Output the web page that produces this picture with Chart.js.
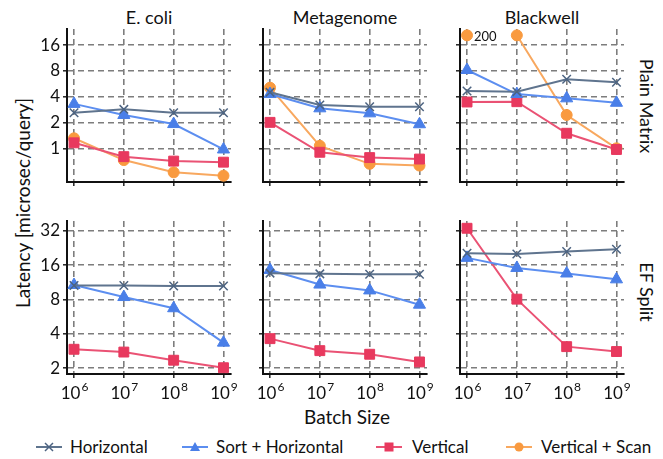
<!DOCTYPE html>
<html>
<head>
<meta charset="utf-8">
<script src="https://cdn.jsdelivr.net/npm/chart.js@4.4.0/dist/chart.umd.min.js"></script>
<style>
body{margin:0;background:#fff;width:663px;height:459px;position:relative;overflow:hidden;font-family:Lato,sans-serif;color:#111}
canvas{position:absolute}
.t{position:absolute;font-size:18px;white-space:nowrap;transform:translate(-50%,-50%)}
.legend{position:absolute;left:0;top:436px;width:663px;height:22px;font-size:17px}
.legend span{position:absolute;top:0;white-space:nowrap}
.legend svg{position:absolute;top:4px}
</style>
</head>
<body>

<div class="t" style="left:149px;top:17px">E. coli</div>
<div class="t" style="left:345px;top:17px">Metagenome</div>
<div class="t" style="left:542px;top:17px">Blackwell</div>
<div class="t" style="left:647px;top:106px;transform:translate(-50%,-50%) rotate(90deg)">Plain Matrix</div>
<div class="t" style="left:647px;top:292px;transform:translate(-50%,-50%) rotate(90deg)">EF Split</div>
<div class="t" style="left:22px;top:203px;font-size:19px;transform:translate(-50%,-50%) rotate(-90deg)">Latency [microsec/query]</div>
<div class="t" style="left:347px;top:416px;font-size:19px">Batch Size</div>

<div class="legend" id="legend"></div>

<script>
// x values (batch sizes) and tick labels
const batchSizes = [1e6, 1e7, 1e8, 1e9];
const plainTicks = [1, 2, 4, 8, 16];
const splitTicks = [2, 4, 8, 16, 32];
const seriesNames = ['Horizontal', 'Sort + Horizontal', 'Vertical', 'Vertical + Scan'];

// Plain Matrix row
const ecoliPlainHoriz = [2.6, 2.85, 2.6, 2.6];
const ecoliPlainSort = [3.3, 2.45, 1.92, 0.97];
const ecoliPlainVert = [1.16, 0.8, 0.71, 0.69];
const ecoliPlainScan = [1.31, 0.73, 0.525, 0.48];

const metaPlainHoriz = [4.5, 3.2, 3.06, 3.06];
const metaPlainSort = [4.3, 2.93, 2.56, 1.91];
const metaPlainVert = [2.01, 0.9, 0.78, 0.75];
const metaPlainScan = [5.1, 1.07, 0.66, 0.63];

const blackPlainHoriz = [4.66, 4.57, 6.4, 5.9];
const blackPlainSort = [8.2, 4.3, 3.83, 3.4];
const blackPlainVert = [3.47, 3.5, 1.5, 0.97];
const blackPlainScan = [200, 200, 2.45, 1.0];

// EF Split row
const ecoliSplitHoriz = [10.6, 10.6, 10.5, 10.5];
const ecoliSplitSort = [10.7, 8.4, 6.7, 3.35];
const ecoliSplitVert = [2.93, 2.77, 2.35, 2.02];

const metaSplitHoriz = [13.6, 13.4, 13.3, 13.3];
const metaSplitSort = [14.5, 10.8, 9.6, 7.2];
const metaSplitVert = [3.63, 2.85, 2.65, 2.27];

const blackSplitHoriz = [20.3, 20.0, 21.0, 22.0];
const blackSplitSort = [18.5, 15.1, 13.5, 12.0];
const blackSplitVert = [33.6, 8.05, 3.09, 2.8];

// values above this are drawn at the top edge with a "200" note
const plainCap = 20.8;

const styles = [
  {line: '#5f748e', point: '#4c6381', shape: 'crossRot', r: 6, bw: 1.5},
  {line: '#5c8ef0', point: '#4a7fe8', shape: 'triangle', r: 7, bw: 1},
  {line: '#ea5274', point: '#e8395e', shape: 'rect', r: 7, bw: 1},
  {line: '#f8a85f', point: '#f99a3f', shape: 'circle', r: 5.5, bw: 1}
];

const axisX = [67, 263, 460];
const rowTop = [29, 221];
const plotW = 164, plotH = 153;
const xMin = Math.pow(10, 5.859), xMax = Math.pow(10, 9.151);
const yRange = [[0.405, 24.66], [1.78, 38.9]];

const supTicks = {
  id: 'supTicks',
  afterDraw(chart) {
    const sc = chart.scales.x, ctx = chart.ctx;
    ctx.save();
    ctx.fillStyle = '#111';
    ctx.textBaseline = 'alphabetic';
    batchSizes.forEach(v => {
      const x = sc.getPixelForValue(v);
      const exp = String(Math.round(Math.log10(v)));
      ctx.font = '17px Lato';
      const w1 = ctx.measureText('10').width;
      ctx.font = '12px Lato';
      const w2 = ctx.measureText(exp).width;
      const x0 = x - (w1 + w2) / 2;
      ctx.font = '17px Lato';
      ctx.fillText('10', x0, sc.top + 25);
      ctx.font = '12px Lato';
      ctx.fillText(exp, x0 + w1 + 1, sc.top + 17);
    });
    ctx.restore();
  }
};

const capNote = {
  id: 'capNote',
  afterDatasetsDraw(chart) {
    const meta = chart.getDatasetMeta(3);
    if (!meta || !meta.data.length) return;
    const p = meta.data[0], ctx = chart.ctx;
    ctx.save();
    ctx.fillStyle = '#111';
    ctx.font = '13px Lato';
    ctx.textBaseline = 'middle';
    ctx.fillText('200', p.x + 7, p.y + 1);
    ctx.restore();
  }
};

function makePanel(col, row, series) {
  const left = col === 0 ? 50 : 14;
  const bottom = row === 1 ? 40 : 14;
  const cv = document.createElement('canvas');
  cv.width = left + plotW + 14;
  cv.height = 14 + plotH + bottom;
  cv.style.left = (axisX[col] - left) + 'px';
  cv.style.top = (rowTop[row] - 14) + 'px';
  document.body.appendChild(cv);

  const yTicks = row === 0 ? plainTicks : splitTicks;
  const cap = row === 0 ? plainCap : Infinity;
  const datasets = series.map((vals, i) => {
    const s = styles[i];
    return {
      label: seriesNames[i],
      data: vals.map((v, j) => ({x: batchSizes[j], y: Math.min(v, cap)})),
      borderColor: s.line,
      borderWidth: 2,
      pointStyle: s.shape,
      pointRadius: s.r,
      pointBackgroundColor: s.point,
      pointBorderColor: s.point,
      pointBorderWidth: s.bw,
      tension: 0,
      clip: false,
      segment: {
        borderColor: c => (vals[c.p0DataIndex] > cap && vals[c.p1DataIndex] > cap) ? 'rgba(0,0,0,0)' : undefined
      }
    };
  });

  const gridOpts = {color: '#7d7d7d', lineWidth: 1.6, tickLength: 4, tickColor: '#222', tickWidth: 1.5, tickBorderDash: []};
  const borderOpts = {color: '#111', width: 2, dash: [6, 4]};

  new Chart(cv, {
    type: 'line',
    data: {datasets},
    options: {
      responsive: false,
      animation: false,
      layout: {padding: {left: 0, top: 14, right: 14, bottom: 0}},
      plugins: {legend: {display: false}, tooltip: {enabled: false}},
      scales: {
        x: {
          type: 'logarithmic', min: xMin, max: xMax,
          afterBuildTicks: s => { s.ticks = batchSizes.map(v => ({value: v})); },
          afterFit: s => { s.height = bottom; s.paddingLeft = s.paddingRight = 0; },
          ticks: {display: false},
          grid: gridOpts, border: borderOpts
        },
        y: {
          type: 'logarithmic', min: yRange[row][0], max: yRange[row][1],
          afterBuildTicks: s => { s.ticks = yTicks.map(v => ({value: v})); },
          afterFit: s => { s.width = left; s.paddingTop = s.paddingBottom = 0; },
          ticks: {display: col === 0, callback: v => String(v), color: '#111', padding: 3, font: {family: 'Lato', size: 17}},
          grid: gridOpts, border: borderOpts
        }
      }
    },
    plugins: (row === 1 ? [supTicks] : []).concat(row === 0 && col === 2 ? [capNote] : [])
  });
}

makePanel(0, 0, [ecoliPlainHoriz, ecoliPlainSort, ecoliPlainVert, ecoliPlainScan]);
makePanel(1, 0, [metaPlainHoriz, metaPlainSort, metaPlainVert, metaPlainScan]);
makePanel(2, 0, [blackPlainHoriz, blackPlainSort, blackPlainVert, blackPlainScan]);
makePanel(0, 1, [ecoliSplitHoriz, ecoliSplitSort, ecoliSplitVert]);
makePanel(1, 1, [metaSplitHoriz, metaSplitSort, metaSplitVert]);
makePanel(2, 1, [blackSplitHoriz, blackSplitSort, blackSplitVert]);

// legend: line icon with marker, then name
const legendX = [[36, 70], [182, 216], [376, 412], [506, 541]];
const icons = [
  '<path d="M9 3 L17 11 M17 3 L9 11" stroke="#4c6381" stroke-width="1.5"/>',
  '<path d="M13 2 L18 11 L8 11 Z" fill="#4a7fe8"/>',
  '<rect x="8.5" y="2.5" width="9" height="9" fill="#e8395e"/>',
  '<circle cx="13" cy="7" r="4.5" fill="#f99a3f"/>'
];
const legend = document.getElementById('legend');
seriesNames.forEach((name, i) => {
  legend.insertAdjacentHTML('beforeend',
    '<svg width="26" height="14" style="left:' + legendX[i][0] + 'px"><line x1="0" y1="7" x2="26" y2="7" stroke="' + styles[i].line + '" stroke-width="2"/>' + icons[i] + '</svg>' +
    '<span style="left:' + legendX[i][1] + 'px">' + name + '</span>');
});
</script>
</body>
</html>
